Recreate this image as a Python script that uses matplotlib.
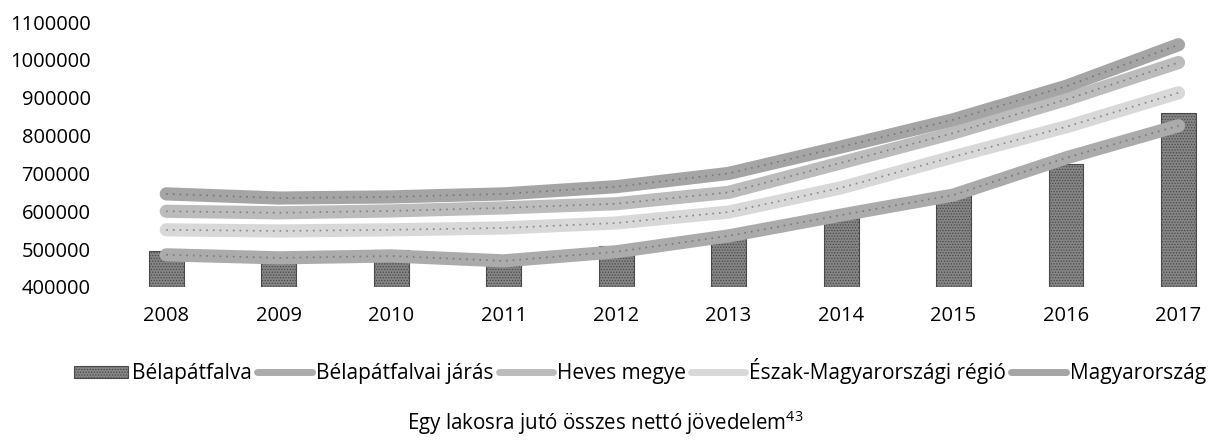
import matplotlib
matplotlib.use("Agg")
import matplotlib.pyplot as plt
from matplotlib.lines import Line2D
from matplotlib.patches import Patch
import numpy as np

years = ["2008", "2009", "2010", "2011", "2012", "2013", "2014", "2015", "2016", "2017"]
belapatfalva = [496000, 466000, 497000, 458000, 508000, 545000, 598000, 643000, 725000, 860000]
jaras = [485000, 477000, 482000, 469000, 493000, 535000, 590000, 643000, 741000, 826000]
heves = [600000, 596000, 601000, 609000, 620000, 650000, 728000, 807000, 895000, 993000]
eszak = [551000, 548000, 551000, 556000, 569000, 598000, 662000, 744000, 823000, 913000]
magyar = [646000, 635000, 638000, 646000, 665000, 700000, 770000, 842000, 930000, 1040000]
yticks = [400000, 500000, 600000, 700000, 800000, 900000, 1000000, 1100000]
labels = ['Bélapátfalva', 'Bélapátfalvai járás', 'Heves megye',
          'Észak-Magyarországi régió', 'Magyarország']

plt.rcParams['font.family'] = ['Open Sans', 'DejaVu Sans']
plt.rcParams['mathtext.fontset'] = 'custom'
plt.rcParams['mathtext.rm'] = 'Open Sans'
plt.rcParams['mathtext.it'] = 'Open Sans'
plt.rcParams['hatch.linewidth'] = 0.6

W, H = 1211, 441
fig = plt.figure(figsize=(W / 100, H / 100), dpi=100)
left_px, right_px, top_px, bot_px = 110, 1211, 22, 287
ax = fig.add_axes([left_px / W, 1 - bot_px / H, (right_px - left_px) / W, (bot_px - top_px) / H])

x = np.arange(len(years))
fs = 14.5
bar_fc, bar_ec = '#858585', '#4a4a4a'
ax.bar(x, [v - 400000 for v in belapatfalva], bottom=400000, width=0.31,
       color=bar_fc, edgecolor=bar_ec, hatch='......', linewidth=0.8, zorder=2)

series = [
    (jaras, '#ababab'),
    (heves, '#bcbcbc'),
    (eszak, '#d8d8d8'),
    (magyar, '#a5a5a5'),
]
handles = [Patch(facecolor=bar_fc, edgecolor=bar_ec, hatch='......', linewidth=0.8)]
for vals, col in series:
    ax.plot(x, vals, color=col, lw=9.5, solid_capstyle='round', solid_joinstyle='round', zorder=3)
    ax.plot(x, vals, color='#666666', lw=1.2, ls=(0, (1, 3)), zorder=4, alpha=0.7)
    handles.append(Line2D([], [], color=col, lw=5, solid_capstyle='round'))

ax.set_xlim(-0.5, (right_px - 166) / 112.5)
ax.set_ylim(400000, 1100000)
ax.set_yticks(yticks)
ax.set_yticklabels([str(v) for v in yticks], fontsize=fs)
ax.set_xticks(x)
ax.set_xticklabels(years, fontsize=fs)
ax.tick_params(axis='both', length=0)
ax.tick_params(axis='y', pad=14)
ax.tick_params(axis='x', pad=14)
for s in ax.spines.values():
    s.set_visible(False)

fig.legend(handles=handles, labels=labels,
           loc='center', bbox_to_anchor=(640 / W, 1 - 371 / H), ncol=5, frameon=False,
           fontsize=15, handlelength=2.6, handletextpad=0.2, columnspacing=0.25,
           handleheight=0.5)
fig.text(605 / W, 1 - 423 / H, 'Egy lakosra jutó összes nettó jövedelem$^{43}$',
         ha='center', va='center', fontsize=14.8)

fig.savefig('out.png', dpi=100)
